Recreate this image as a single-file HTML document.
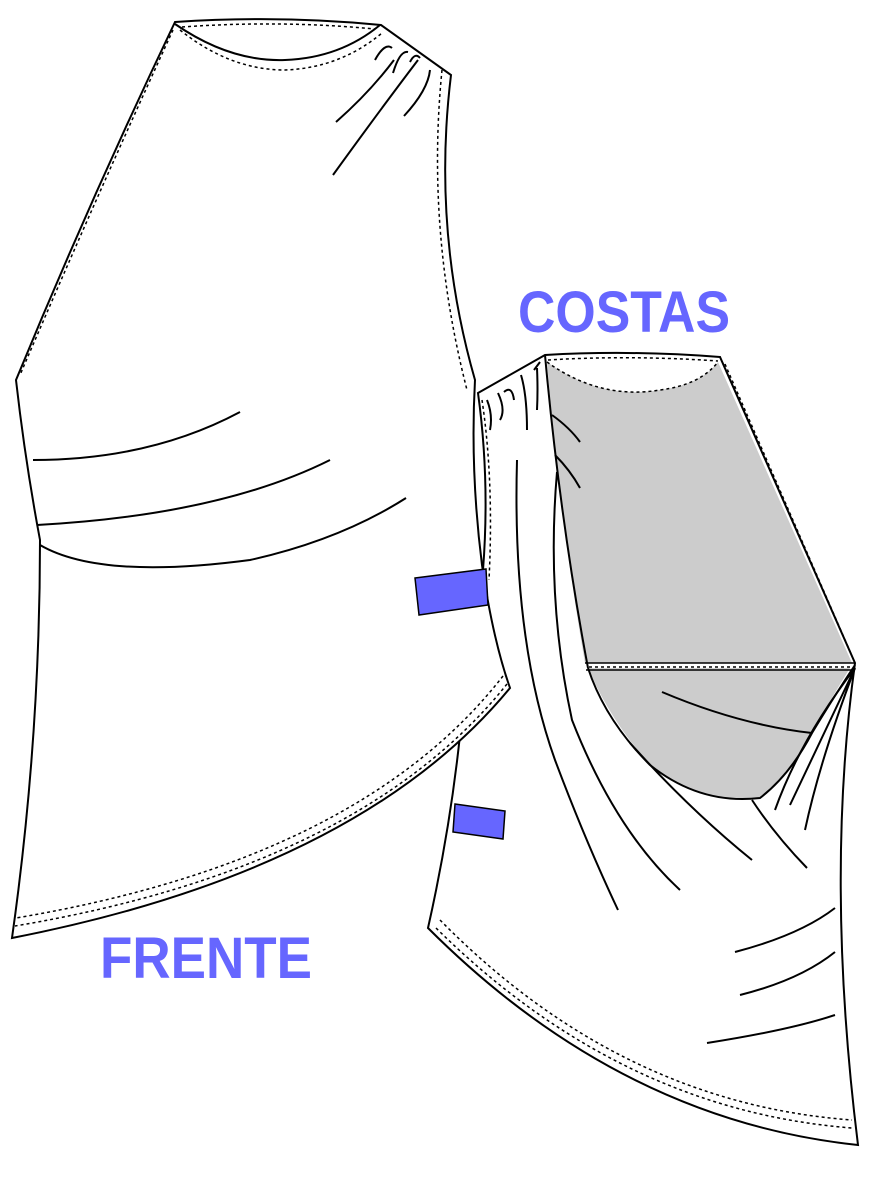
<!DOCTYPE html>
<html><head><meta charset="utf-8"><style>
html,body{margin:0;padding:0;background:#fff;width:887px;height:1182px;overflow:hidden}
svg{display:block}
text{font-family:"Liberation Sans",sans-serif;font-weight:bold;fill:#6666ff}
</style></head><body>
<svg width="887" height="1182" viewBox="0 0 887 1182" fill="none" stroke="#000" stroke-width="2">
<!-- BACK -->
<path d="M478,393 L545,355 Q630,350 720,357 L855,663 Q825,880 858,1145 Q620,1120 428,928 Q450,830 460,735 Q478,660 483,570 Q490,480 478,393 Z" fill="#fff"/>
<path d="M547,362 Q600,400 660,390 Q700,385 718,362 L852,663 L585,663 Q560,520 547,362 Z" fill="#ccc" stroke="none"/>
<path d="M588,668 L850,668 Q830,700 812,733 Q790,775 760,798 Q700,805 650,765 Q610,720 588,668 Z" fill="#ccc" stroke="none"/>
<path d="M547,362 Q600,400 660,390 Q700,385 718,362" stroke-dasharray="3,3" stroke-width="1.5"/>
<path d="M548,360 Q630,355 718,361" stroke-dasharray="3,3" stroke-width="1.5"/>
<path d="M725,364 L852,656" stroke-dasharray="3,3" stroke-width="1.5"/>
<path d="M585,663 L855,663 M586,670 L852,670" stroke-width="1.5"/>
<path d="M589,667 L852,667" stroke-dasharray="3,3" stroke-width="1.5"/>
<path d="M545,355 Q560,520 588,668"/>
<path d="M588,668 Q605,720 650,765 Q700,805 760,798 Q790,775 812,733 Q835,695 855,665"/>
<path d="M482,400 Q494,480 489,580" stroke-dasharray="3,3" stroke-width="1.5"/>
<path d="M517,460 Q512,640 555,760 Q585,840 618,910"/>
<path d="M557,472 Q546,600 572,720 Q615,830 680,890"/>
<path d="M630,743 Q690,810 752,860 M752,800 Q775,835 807,868 M855,668 Q800,740 775,810 M855,668 Q820,760 805,830 M855,668 Q830,720 790,805 M662,692 Q740,725 812,733"/>
<path d="M552,415 Q570,428 580,442 M555,455 Q570,470 580,488"/>
<path d="M487,400 Q493,415 490,430 M498,393 Q506,410 500,420 M504,392 Q512,385 514,400 M521,375 Q527,395 527,430 M537,368 Q538,390 537,410 M534,370 L540,362"/>
<path d="M735,952 Q800,935 835,908 M740,995 Q800,980 835,952 M707,1043 Q790,1030 835,1015"/>
<path d="M436,928 Q620,1110 852,1128" stroke-dasharray="3,3" stroke-width="1.5"/>
<path d="M440,920 Q620,1103 852,1120" stroke-dasharray="3,3" stroke-width="1.5"/>
<!-- FRONT -->
<path d="M175,22 Q280,15 381,25 L451,75 Q432,230 475,380 Q470,470 482,565 Q493,640 510,688 Q360,870 12,938 Q40,740 40,540 Q25,460 16,380 Q90,200 175,22 Z" fill="#fff"/>
<path d="M175,24 Q230,62 285,60 Q340,58 380,25"/>
<path d="M180,30 Q230,70 285,70 Q340,68 382,33" stroke-dasharray="3,3" stroke-width="1.5"/>
<path d="M182,27 Q280,20 375,29" stroke-dasharray="3,3" stroke-width="1.5"/>
<path d="M173,30 Q95,200 20,375" stroke-dasharray="3,3" stroke-width="1.5"/>
<path d="M442,70 Q426,230 467,390" stroke-dasharray="3,3" stroke-width="1.5"/>
<path d="M503,676 Q360,860 16,918" stroke-dasharray="3,3" stroke-width="1.5"/>
<path d="M507,684 Q360,868 15,926" stroke-dasharray="3,3" stroke-width="1.5"/>
<path d="M336,122 Q370,92 394,60 M333,175 Q380,110 418,60 M404,116 Q428,90 430,70 M375,60 Q385,42 392,48 M393,73 Q400,50 408,52 M410,62 Q415,52 420,58"/>
<path d="M33,460 Q150,460 240,412 M37,525 Q220,515 330,460 M40,545 Q100,580 250,560 Q340,540 406,498"/>
<!-- tabs -->
<path d="M415,578 L486,569 L488,605 L419,615 Z" fill="#6666ff" stroke="#000" stroke-width="1.5"/>
<path d="M455,804 L505,811 L503,839 L453,832 Z" fill="#6666ff" stroke="#000" stroke-width="1.5"/>
<text x="518" y="332" font-size="58" stroke="none" textLength="212" lengthAdjust="spacingAndGlyphs">COSTAS</text>
<text x="100" y="978" font-size="58" stroke="none" textLength="212" lengthAdjust="spacingAndGlyphs">FRENTE</text>
</svg>
</body></html>
